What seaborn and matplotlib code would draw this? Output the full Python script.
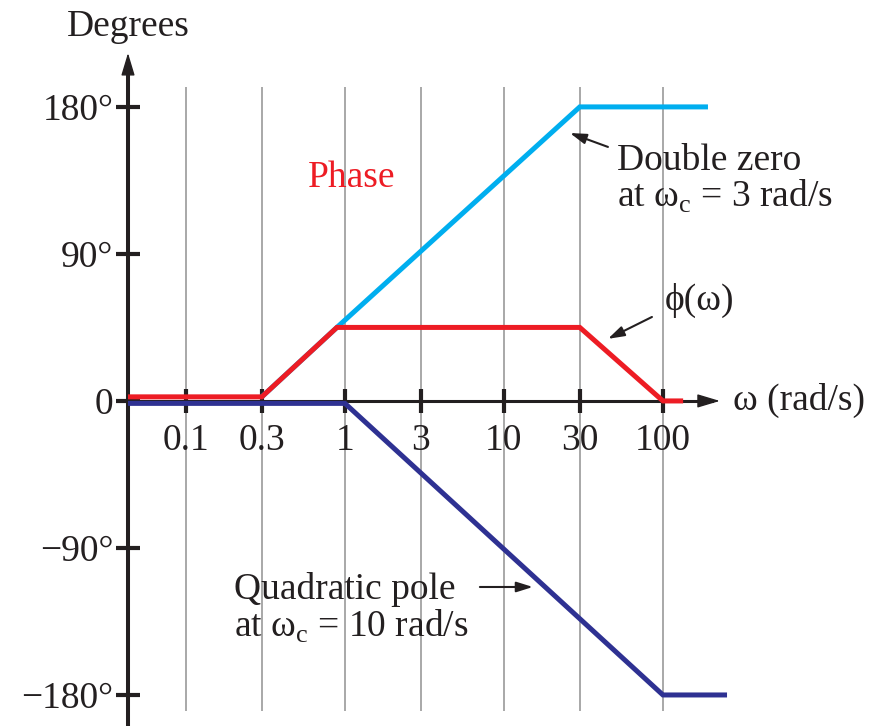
import numpy as np
import matplotlib
matplotlib.use("Agg")
import matplotlib.pyplot as plt
import seaborn as sns
import pandas as pd

sns.set_theme(style="white")
plt.rcParams["font.family"] = ["Liberation Serif", "DejaVu Serif"]
plt.rcParams["mathtext.fontset"] = "custom"
plt.rcParams["mathtext.rm"] = "Liberation Serif"

# --- data ---
x_ticks = [0.1, 0.3, 1, 3, 10, 30, 100]
x_ticklabels = ["0.1", "0.3", "1", "3", "10", "30", "100"]
y_ticks = [180, 90, 0, -90, -180]
y_ticklabels = ["180°", "90°", "0", "−90°", "−180°"]

phase_w = [0.0432, 0.3, 0.89, 30, 100, 134]
phase_deg = [2.5, 2.5, 45, 45, 0, 0]

zero_w = [0.3, 0.89, 30, 192]
zero_deg = [2.5, 45, 180, 180]

pole_w = [0.0432, 1, 100, 253]
pole_deg = [-1.5, -1.5, -180, -180]

INK = "#231f20"
RED = "#ed1c24"
CYAN = "#00aeef"
NAVY = "#2e3192"
FS = 27

x0, x1 = 0.0432, 284
y0, y1 = -199, 213

fig = plt.figure(figsize=(8.82, 7.26), dpi=100)
ax = fig.add_axes([128 / 882, 0, 607 / 882, 673 / 726])
ax.set_axisbelow(False)
ax.set_xscale("log")
ax.set_xlim(x0, x1)
ax.set_ylim(y0, y1)

# grid lines
ax.vlines(x_ticks, -190, 192, color="#9a9a9a", lw=1.2, zorder=1)

# curves
df_zero = pd.DataFrame({"w": zero_w, "deg": zero_deg})
df_pole = pd.DataFrame({"w": pole_w, "deg": pole_deg})
df_phase = pd.DataFrame({"w": phase_w, "deg": phase_deg})
for df, col in [(df_pole, NAVY), (df_zero, CYAN), (df_phase, RED)]:
    sns.lineplot(data=df, x="w", y="deg", color=col, lw=3.6, ax=ax,
                 estimator=None, sort=False, zorder=3,
                 solid_capstyle="butt", solid_joinstyle="miter")

# axes with arrows
for s in ["top", "right"]:
    ax.spines[s].set_visible(False)
ax.spines["left"].set_color(INK)
ax.spines["left"].set_linewidth(2.9)
ax.spines["left"].set_bounds(y0, 203)
ax.spines["bottom"].set_position(("data", 0))
ax.spines["bottom"].set_color(INK)
ax.spines["bottom"].set_linewidth(2.2)
ax.spines["bottom"].set_bounds(x0, 205)

head = "-|>,head_length=1.4,head_width=0.42"
ax.annotate("", xy=(x0, 213), xytext=(x0, 195),
            arrowprops=dict(arrowstyle=head, color=INK, lw=1,
                            mutation_scale=10, shrinkA=0, shrinkB=0))
ax.annotate("", xy=(228, 0), xytext=(190, 0),
            arrowprops=dict(arrowstyle=head, color=INK, lw=1,
                            mutation_scale=10, shrinkA=0, shrinkB=0))

ax.set_xticks(x_ticks)
ax.set_xticklabels(x_ticklabels)
ax.xaxis.set_minor_locator(matplotlib.ticker.NullLocator())
ax.set_yticks(y_ticks)
ax.set_yticklabels(y_ticklabels)
ax.tick_params(axis="both", which="major", bottom=True, left=True,
               direction="inout", length=17, width=3.0,
               color=INK, labelcolor=INK, labelsize=FS)
ax.tick_params(axis="x", pad=8)
ax.tick_params(axis="y", pad=2)
ax.set_xlabel("")
ax.set_ylabel("")

# labels
ax.text(x0, 229, "Degrees", fontsize=FS, color=INK, ha="center", va="center")
ax.text(275, 0, "ω (rad/s)", fontsize=FS, color=INK, ha="left", va="center")
ax.text(1.1, 136.6, "Phase", fontsize=FS, color=RED, ha="center", va="center")

arrow_kw = dict(arrowstyle="-|>,head_length=0.7,head_width=0.22",
                color=INK, lw=1.5, mutation_scale=14, shrinkA=0, shrinkB=0)

ax.text(51.4, 135.5, "Double zero\nat ω$_{\\mathrm{c}}$ = 3 rad/s", fontsize=FS,
        color=INK, ha="left", va="center", linespacing=1.0)
ax.annotate("", xy=(26.0, 164), xytext=(45.1, 155.5), arrowprops=arrow_kw)

ax.text(103, 61.8, "ϕ(ω)", fontsize=FS, color=INK, ha="left", va="center")
ax.annotate("", xy=(45.1, 38), xytext=(85.3, 51.4), arrowprops=arrow_kw)

ax.text(0.200, -127, "Quadratic pole\nat ω$_{\\mathrm{c}}$ = 10 rad/s", fontsize=FS,
        color=INK, ha="left", va="center", linespacing=1.05)
ax.annotate("", xy=(15.2, -113.9), xytext=(7.06, -113.9), arrowprops=arrow_kw)

fig.savefig("out.png", dpi=100)
